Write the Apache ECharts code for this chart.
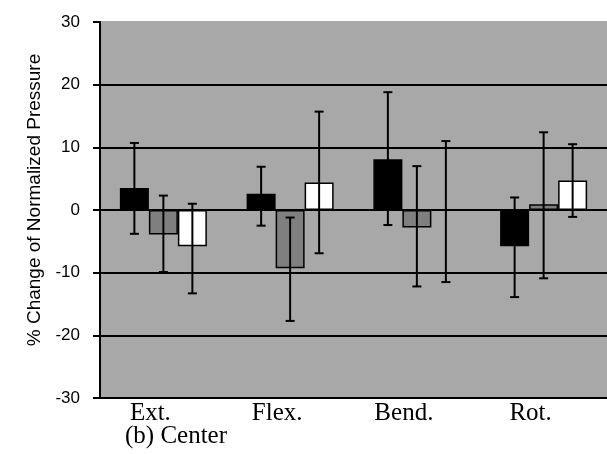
<!DOCTYPE html>
<html><head><meta charset="utf-8">
<script src="https://cdn.jsdelivr.net/npm/echarts@6/dist/echarts.min.js"></script>
<style>html,body{margin:0;padding:0;background:#fff}#c{width:607px;height:454px}</style>
</head><body><div id="c"></div>
<script>
var categories = ['Ext.', 'Flex.', 'Bend.', 'Rot.'];
var yTicks = [-30, -20, -10, 0, 10, 20, 30];
var blackVals = [3.5, 2.6, 8.1, -5.8];
var blackLow  = [-3.8, -2.5, -2.4, -13.9];
var blackHigh = [10.7, 6.9, 18.8, 2.0];
var grayVals  = [-3.9, -9.3, -2.8, 0.9];
var grayLow   = [-9.9, -17.7, -12.2, -10.9];
var grayHigh  = [2.3, -1.2, 7.0, 12.4];
var whiteVals = [-5.8, 4.4, 0, 4.7];
var whiteLow  = [-13.3, -6.9, -11.5, -1.1];
var whiteHigh = [1.0, 15.7, 11.0, 10.5];
var subtitle = '(b) Center';
var yTitle = '% Change of Normalized Pressure';

var BAR_W = 29;
var BG = '#a8a8a8';

function errSeries(low, high, idx) {
  return {
    type: 'custom',
    z: 5,
    data: categories.map(function (c, i) { return [i, low[i], high[i]]; }),
    renderItem: function (params, api) {
      var lo = api.coord([api.value(0), api.value(1)]);
      var hi = api.coord([api.value(0), api.value(2)]);
      var x = lo[0] + (idx - 1) * BAR_W;
      var cap = 4.5;
      var st = { stroke: '#000', lineWidth: 2 };
      return {
        type: 'group',
        children: [
          { type: 'line', shape: { x1: x, y1: lo[1], x2: x, y2: hi[1] }, style: st },
          { type: 'line', shape: { x1: x - cap, y1: lo[1], x2: x + cap, y2: lo[1] }, style: st },
          { type: 'line', shape: { x1: x - cap, y1: hi[1], x2: x + cap, y2: hi[1] }, style: st }
        ]
      };
    }
  };
}

function barSeries(vals, color) {
  return {
    type: 'bar',
    data: vals,
    barWidth: BAR_W,
    barGap: '0%',
    itemStyle: { color: color, borderColor: '#000', borderWidth: 1.5 }
  };
}

var chart = echarts.init(document.getElementById('c'), null, { renderer: 'canvas' });
chart.setOption({
  animation: false,
  backgroundColor: '#fff',
  grid: { left: 100, top: 22, width: 516, height: 376, show: true, backgroundColor: BG, borderWidth: 0 },
  xAxis: {
    type: 'category',
    data: categories,
    axisLine: { onZero: false, lineStyle: { color: '#000', width: 2 } },
    axisTick: { show: false },
    axisLabel: { color: '#000', fontFamily: 'Liberation Serif', fontSize: 25, margin: 3, padding: [0, 26, 0, 0] },
    splitLine: { show: false }
  },
  yAxis: {
    type: 'value',
    min: yTicks[0], max: yTicks[yTicks.length - 1], interval: 10,
    axisLine: { show: true, lineStyle: { color: '#000', width: 2 } },
    axisTick: { show: true, length: 7, lineStyle: { color: '#000', width: 2 } },
    axisLabel: { color: '#000', fontFamily: 'Liberation Sans', fontSize: 17, margin: 20 },
    splitLine: { show: true, lineStyle: { color: ['#000', '#000', '#000', '#000', '#000', '#000', BG], width: 2 } }
  },
  graphic: [
    { type: 'text', x: 35, y: 200, rotation: Math.PI / 2,
      style: { text: yTitle, font: '19px "Liberation Sans"', fill: '#000', align: 'center', verticalAlign: 'middle' } },
    { type: 'text', left: 125, top: 424,
      style: { text: subtitle, font: '25px "Liberation Serif"', fill: '#000' } }
  ],
  series: [
    barSeries(blackVals, '#000'),
    barSeries(grayVals, '#7f7f7f'),
    barSeries(whiteVals, '#fff'),
    errSeries(blackLow, blackHigh, 0),
    errSeries(grayLow, grayHigh, 1),
    errSeries(whiteLow, whiteHigh, 2)
  ]
});
</script></body></html>
